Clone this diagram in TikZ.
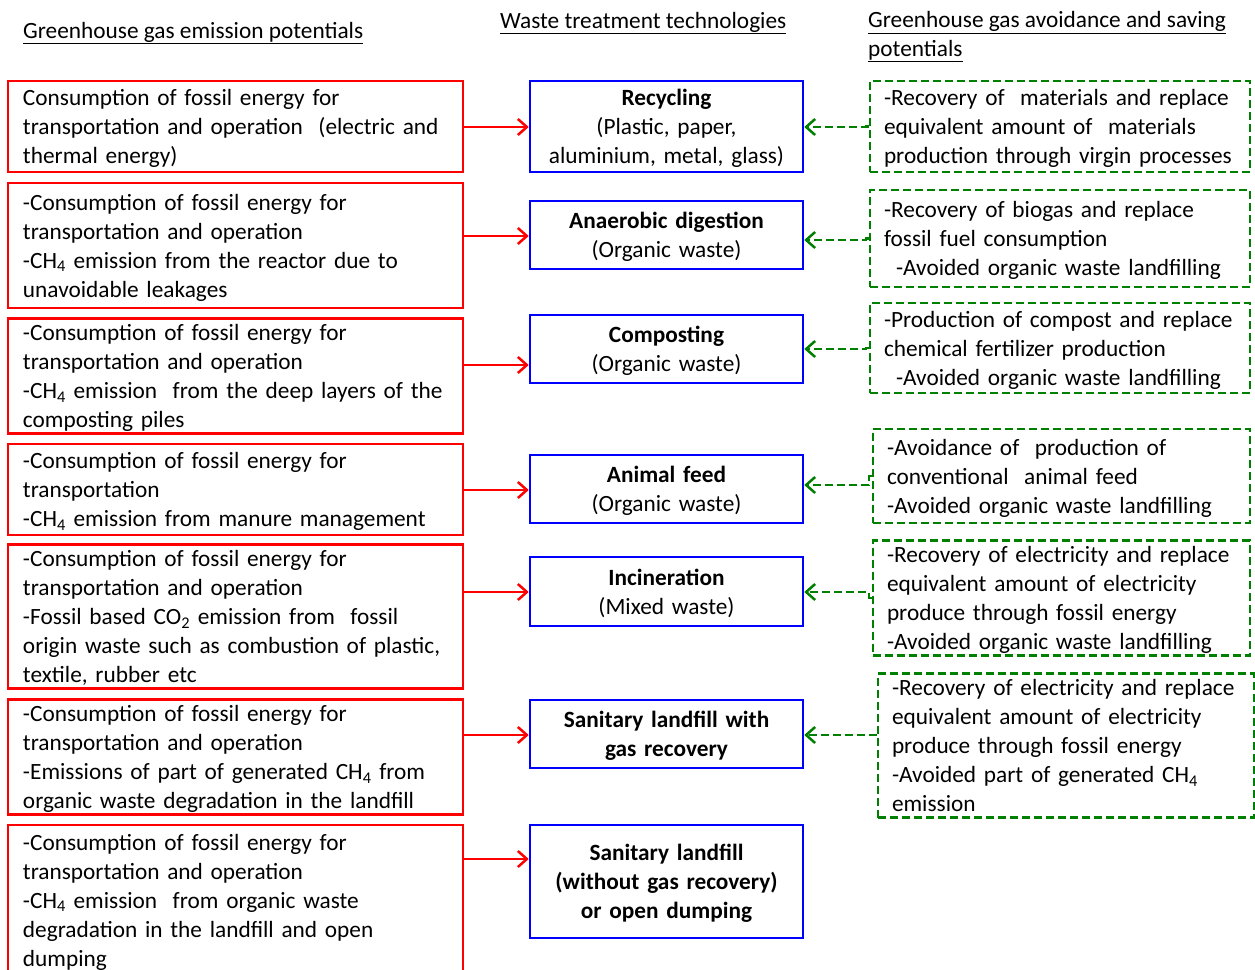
\documentclass[tikz,border=0pt]{standalone}
\usepackage{fontspec}
\setmainfont{Carlito}
\usetikzlibrary{arrows.meta}
\definecolor{myred}{RGB}{255,0,0}
\definecolor{myblue}{RGB}{0,0,255}
\definecolor{mygreen}{RGB}{0,128,0}
\begin{document}
\begin{tikzpicture}[x=1pt,y=-1pt,
  every node/.style={font=\fontsize{23.3}{29}\selectfont, text=black},
  boxshift/.style={execute at begin node={\rule{0pt}{22pt}}, execute at end node={\rule[-6pt]{0pt}{6pt}}},
  redbox/.style={boxshift, draw=myred, line width=2.5pt, inner xsep=15pt, inner ysep=0pt, align=left, minimum width=455pt},
  bluebox/.style={boxshift, draw=myblue, line width=2.5pt, inner xsep=8pt, inner ysep=0pt, align=center, text width=257pt, minimum width=273pt},
  greenbox/.style={boxshift, draw=mygreen, line width=2.5pt, dash pattern=on 8pt off 4pt, inner xsep=14pt, inner ysep=0pt, align=left},
  hdr/.style={anchor=west, inner sep=0pt, align=left},
  rarrow/.style={draw=myred, line width=2.5pt, -{Straight Barb[length=9pt,width=16pt,line width=2.5pt]}},
  garrow/.style={draw=mygreen, line width=2.5pt, dash pattern=on 8pt off 4pt, -{Straight Barb[length=9pt,width=16pt,line width=2.5pt]}}
]
\useasboundingbox (0,0) rectangle (1255,969);

% headers
\node[hdr] (h1) at (23,33) {\underline{Greenhouse gas emission potentials}};
\node[hdr] (h2) at (500,23) {\underline{Waste treatment technologies}};
\node[hdr, anchor=north west] (h3) at (868,11) {\underline{Greenhouse gas avoidance and saving}\\\underline{potentials}};

% red boxes
\node[redbox, text width=425pt, minimum height=91pt] (r1) at (235.5,126.5) {Consumption of fossil energy for\\transportation and operation\ \ (electric and\\thermal energy)};
\node[redbox, text width=425pt, minimum height=125pt] (r2) at (235.5,245.5) {-Consumption of fossil energy for\\transportation and operation\\-CH\textsubscript{4} emission from the reactor due to\\unavoidable leakages};
\node[redbox, text width=425pt, minimum height=114pt] (r3) at (235.5,376) {-Consumption of fossil energy for\\transportation and operation\\-CH\textsubscript{4} emission\ \ from the deep layers of the\\composting piles};
\node[redbox, text width=425pt, minimum height=91pt] (r4) at (235.5,489.5) {-Consumption of fossil energy for\\transportation\\-CH\textsubscript{4} emission from manure management};
\node[redbox, text width=425pt, minimum height=143pt] (r5) at (235.5,616.5) {-Consumption of fossil energy for\\transportation and operation\\-Fossil based CO\textsubscript{2} emission from\ \ fossil\\origin waste such as combustion of plastic,\\textile, rubber etc};
\node[redbox, text width=425pt, minimum height=114pt] (r6) at (235.5,757) {-Consumption of fossil energy for\\transportation and operation\\-Emissions of part of generated CH\textsubscript{4} from\\organic waste degradation in the landfill};
\node[redbox, text width=425pt, minimum height=150pt] (r7) at (235.5,900) {-Consumption of fossil energy for\\transportation and operation\\-CH\textsubscript{4} emission\ \ from organic waste\\degradation in the landfill and open\\dumping};

% blue boxes
\node[bluebox, minimum height=91pt] (b1) at (666.5,126.5) {\textbf{Recycling}\\(Plastic, paper,\\aluminium, metal, glass)};
\node[bluebox, minimum height=68pt] (b2) at (666.5,235) {\textbf{Anaerobic digestion}\\(Organic waste)};
\node[bluebox, minimum height=68pt] (b3) at (666.5,349) {\textbf{Composting}\\(Organic waste)};
\node[bluebox, minimum height=68pt] (b4) at (666.5,489) {\textbf{Animal feed}\\(Organic waste)};
\node[bluebox, minimum height=69pt] (b5) at (666.5,591.5) {\textbf{Incineration}\\(Mixed waste)};
\node[bluebox, minimum height=68pt] (b6) at (666.5,734) {\textbf{Sanitary landfill with}\\\textbf{gas recovery}};
\node[bluebox, minimum height=113pt] (b7) at (666.5,881.5) {\textbf{Sanitary landfill}\\\textbf{(without gas recovery)}\\\textbf{or open dumping}};

% green boxes
\node[greenbox, text width=352pt, minimum height=91pt] (g1) at (1060,126.5) {-Recovery of\ \ materials and replace\\equivalent amount of\ \ materials\\production through virgin processes};
\node[greenbox, text width=352pt, minimum height=97pt] (g2) at (1060,238.5) {-Recovery of biogas and replace\\fossil fuel consumption\\\hspace*{12pt}-Avoided organic waste landfilling};
\node[greenbox, text width=352pt, minimum height=90pt] (g3) at (1060,348) {-Production of compost and replace\\chemical fertilizer production\\\hspace*{12pt}-Avoided organic waste landfilling};
\node[greenbox, text width=349pt, minimum height=94pt] (g4) at (1061.5,476) {-Avoidance of\ \ production of\\conventional\ \ animal feed\\-Avoided organic waste landfilling};
\node[greenbox, text width=349pt, minimum height=114pt] (g5) at (1061.5,598) {-Recovery of electricity and replace\\equivalent amount of electricity\\produce through fossil energy\\-Avoided organic waste landfilling};
\node[greenbox, text width=348pt, minimum height=135pt] (g6) at (1066,745.5) {-Recovery of electricity and replace\\equivalent amount of electricity\\produce through fossil energy\\-Avoided part of generated CH\textsubscript{4}\\emission};

% arrow levels
\coordinate (ya1) at (0,127);
\coordinate (ya2) at (0,236);
\coordinate (ya3) at (0,365);
\coordinate (ya4) at (0,490);
\coordinate (ya5) at (0,592);
\coordinate (ya6) at (0,735);
\coordinate (ya7) at (0,859);
\coordinate (yg1) at (0,127);
\coordinate (yg2) at (0,240);
\coordinate (yg3) at (0,349);
\coordinate (yg4) at (0,485);
\coordinate (yg5) at (0,592);
\coordinate (yg6) at (0,735);

% red arrows
\draw[rarrow] (r1.east |- ya1) -- (b1.west |- ya1);
\draw[rarrow] (r2.east |- ya2) -- (b2.west |- ya2);
\draw[rarrow] (r3.east |- ya3) -- (b3.west |- ya3);
\draw[rarrow] (r4.east |- ya4) -- (b4.west |- ya4);
\draw[rarrow] (r5.east |- ya5) -- (b5.west |- ya5);
\draw[rarrow] (r6.east |- ya6) -- (b6.west |- ya6);
\draw[rarrow] (r7.east |- ya7) -- (b7.west |- ya7);

% green arrows
\draw[garrow] (g1.west) -- ++(-3,0) |- (b1.east |- yg1);
\draw[garrow] (g2.west) -- ++(-3,0) |- (b2.east |- yg2);
\draw[garrow] (g3.west) -- ++(-3,0) |- (b3.east |- yg3);
\draw[garrow] (g4.west) -- ++(-3,0) |- (b4.east |- yg4);
\draw[garrow] (g5.west) -- ++(-3,0) |- (b5.east |- yg5);
\draw[garrow] (g6.west |- yg6) -- (b6.east |- yg6);
\end{tikzpicture}
\end{document}
